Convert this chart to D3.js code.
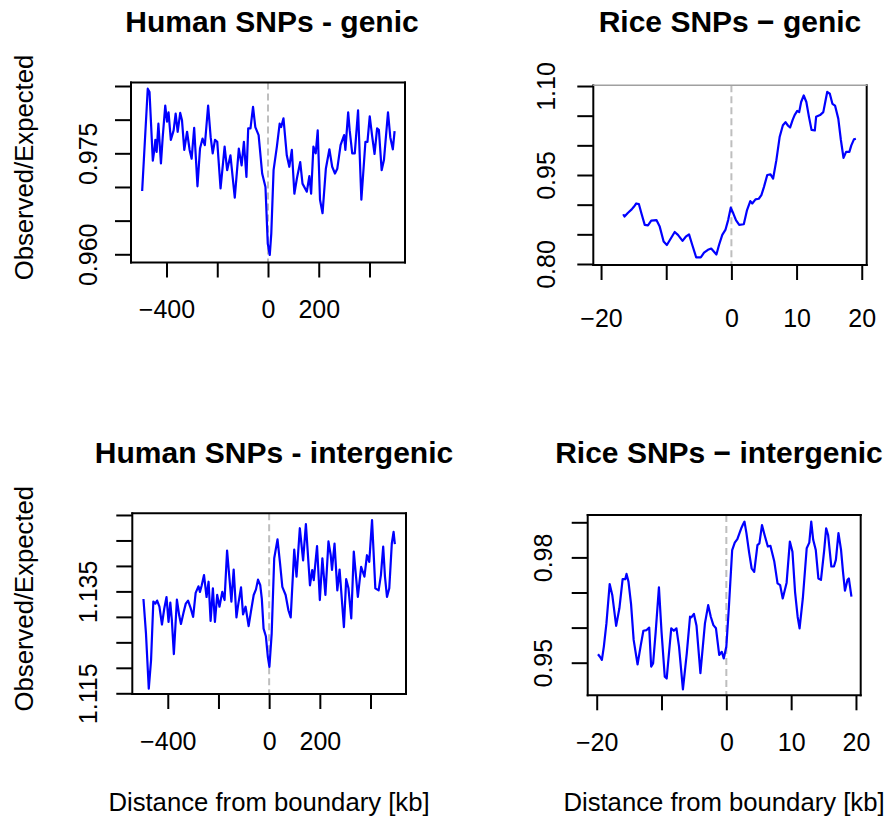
<!DOCTYPE html>
<html>
<head>
<meta charset="utf-8">
<script src="https://cdn.jsdelivr.net/npm/d3@7"></script>
<style>
  body { margin: 0; background: #fff; }
  svg text { font-family: "Liberation Sans", Arial, Helvetica, sans-serif; fill: #000; }
</style>
</head>
<body>
<svg width="890" height="822"></svg>
<script>
// observed/expected ratio vs distance from boundary
var humanGenic = [[-496,0.9694],[-474,0.9846],[-467,0.9841],[-454,0.9739],[-448,0.9755],[-444,0.9770],[-439,0.9752],[-432,0.9794],[-422,0.9735],[-415,0.9774],[-405,0.9821],[-398,0.9797],[-392,0.9811],[-383,0.9770],[-372,0.9784],[-364,0.9809],[-356,0.9782],[-346,0.9810],[-339,0.9799],[-330,0.9755],[-319,0.9782],[-309,0.9755],[-301,0.9742],[-291,0.9788],[-278,0.9701],[-268,0.9757],[-258,0.9772],[-249,0.9762],[-236,0.9821],[-226,0.9774],[-218,0.9750],[-209,0.9770],[-200,0.9767],[-187,0.9698],[-171,0.9760],[-161,0.9725],[-148,0.9747],[-131,0.9684],[-115,0.9757],[-104,0.9732],[-95,0.9767],[-85,0.9715],[-78,0.9787],[-69,0.9787],[-59,0.9819],[-50,0.9789],[-37,0.9777],[-23,0.9720],[-10,0.9700],[-1,0.9616],[7,0.9599],[13,0.9631],[22,0.9725],[35,0.9760],[46,0.9794],[52,0.9789],[61,0.9802],[74,0.9747],[84,0.9730],[94,0.9755],[104,0.9690],[114,0.9713],[127,0.9737],[136,0.9705],[153,0.9693],[163,0.9716],[170,0.9690],[179,0.9760],[188,0.9750],[196,0.9784],[205,0.9681],[215,0.9661],[228,0.9727],[242,0.9756],[253,0.9730],[264,0.9720],[273,0.9727],[286,0.9762],[300,0.9777],[305,0.9755],[316,0.9811],[322,0.9784],[332,0.9750],[342,0.9750],[355,0.9814],[368,0.9681],[384,0.9767],[392,0.9767],[401,0.9805],[411,0.9774],[420,0.9749],[430,0.9787],[437,0.9785],[448,0.9725],[457,0.9740],[473,0.9811],[482,0.9774],[492,0.9756],[499,0.9783]];

var riceGenic = [[-16.6,0.884],[-16.4,0.880],[-15.9,0.886],[-15.3,0.892],[-15.0,0.896],[-14.6,0.902],[-14.2,0.901],[-13.8,0.885],[-13.3,0.866],[-12.8,0.865],[-12.3,0.873],[-11.5,0.874],[-11.0,0.863],[-10.4,0.838],[-9.9,0.832],[-9.3,0.843],[-8.7,0.854],[-8.2,0.849],[-7.5,0.839],[-7.0,0.846],[-6.5,0.850],[-6.0,0.832],[-5.4,0.811],[-4.7,0.811],[-4.2,0.819],[-3.6,0.824],[-3.1,0.826],[-2.7,0.821],[-2.3,0.816],[-1.9,0.832],[-1.4,0.849],[-0.9,0.858],[-0.5,0.874],[-0.1,0.895],[0.3,0.885],[0.7,0.874],[1.2,0.866],[1.9,0.867],[2.4,0.891],[2.9,0.906],[3.2,0.902],[3.7,0.909],[4.2,0.910],[4.6,0.916],[5.0,0.930],[5.5,0.950],[6.0,0.951],[6.4,0.944],[6.9,0.975],[7.4,1.014],[7.9,1.034],[8.3,1.039],[8.7,1.033],[9.0,1.030],[9.4,1.043],[9.7,1.051],[10.1,1.058],[10.4,1.056],[10.7,1.073],[11.1,1.084],[11.5,1.073],[11.9,1.048],[12.3,1.026],[12.8,1.025],[13.0,1.048],[13.6,1.051],[14.1,1.056],[14.4,1.073],[14.7,1.090],[15.1,1.087],[15.5,1.070],[15.9,1.067],[16.4,1.045],[16.8,1.009],[17.2,0.979],[17.6,0.989],[18.1,0.989],[18.4,1.000],[18.8,1.010],[19.1,1.011]];

var humanInter = [[-496,1.1335],[-486,1.1267],[-475,1.1159],[-466,1.1215],[-457,1.1330],[-449,1.1326],[-442,1.1332],[-433,1.1320],[-423,1.1285],[-414,1.1316],[-405,1.1339],[-397,1.1290],[-390,1.1328],[-384,1.1294],[-376,1.1227],[-364,1.1334],[-355,1.1303],[-348,1.1286],[-338,1.1308],[-329,1.1326],[-320,1.1332],[-309,1.1316],[-300,1.1300],[-290,1.1347],[-279,1.1360],[-273,1.1349],[-266,1.1362],[-257,1.1382],[-247,1.1339],[-239,1.1369],[-231,1.1292],[-222,1.1356],[-214,1.1290],[-205,1.1343],[-196,1.1320],[-185,1.1349],[-176,1.1333],[-166,1.1430],[-155,1.1366],[-149,1.1330],[-140,1.1393],[-129,1.1299],[-123,1.1321],[-111,1.1358],[-103,1.1305],[-93,1.1320],[-81,1.1282],[-72,1.1310],[-61,1.1343],[-52,1.1354],[-44,1.1373],[-35,1.1362],[-29,1.1336],[-22,1.1277],[-13,1.1262],[-5,1.1221],[1,1.1202],[10,1.1267],[20,1.1415],[33,1.1452],[43,1.1405],[52,1.1359],[65,1.1343],[76,1.1313],[85,1.1299],[99,1.1432],[108,1.1379],[121,1.1474],[134,1.1411],[145,1.1482],[161,1.1362],[170,1.1392],[176,1.1372],[189,1.1439],[200,1.1333],[210,1.1415],[222,1.1343],[234,1.1448],[243,1.1421],[248,1.1392],[258,1.1444],[269,1.1352],[278,1.1393],[295,1.1280],[304,1.1374],[313,1.1356],[324,1.1297],[334,1.1428],[350,1.1339],[363,1.1398],[376,1.1379],[386,1.1421],[395,1.1408],[406,1.1490],[419,1.1356],[432,1.1352],[441,1.1382],[450,1.1438],[457,1.1379],[465,1.1339],[474,1.1356],[484,1.1444],[491,1.1467],[496,1.1443]];

var riceInter = [[-19.8,0.9524],[-19.5,0.9517],[-19.2,0.9508],[-18.9,0.9546],[-18.5,0.9612],[-18.0,0.9724],[-17.6,0.9693],[-17.0,0.9605],[-16.5,0.9655],[-16.0,0.9738],[-15.6,0.9738],[-15.4,0.9753],[-15.1,0.9731],[-14.7,0.9667],[-14.3,0.9565],[-13.7,0.9495],[-13.2,0.9550],[-12.8,0.9591],[-12.3,0.9593],[-11.9,0.9600],[-11.6,0.9489],[-11.3,0.9498],[-10.9,0.9588],[-10.4,0.9715],[-10.0,0.9588],[-9.5,0.9460],[-9.2,0.9455],[-8.9,0.9517],[-8.5,0.9598],[-8.1,0.9591],[-7.7,0.9598],[-7.3,0.9546],[-6.7,0.9424],[-6.1,0.9527],[-5.6,0.9631],[-5.4,0.9629],[-5.0,0.9639],[-4.6,0.9605],[-4.0,0.9470],[-3.3,0.9612],[-2.8,0.9664],[-2.4,0.9631],[-2.0,0.9607],[-1.6,0.9598],[-1.1,0.9522],[-0.7,0.9531],[-0.4,0.9512],[0.0,0.9546],[0.4,0.9660],[0.9,0.9821],[1.3,0.9842],[1.7,0.9852],[2.1,0.9873],[2.3,0.9883],[2.6,0.9895],[2.8,0.9902],[3.1,0.9869],[3.5,0.9816],[3.9,0.9769],[4.3,0.9759],[4.8,0.9835],[5.1,0.9840],[5.5,0.9892],[5.9,0.9864],[6.4,0.9831],[6.8,0.9833],[7.4,0.9788],[7.9,0.9726],[8.3,0.9721],[8.7,0.9683],[9.3,0.9728],[9.8,0.9845],[10.2,0.9816],[10.6,0.9702],[11.0,0.9631],[11.3,0.9598],[11.8,0.9683],[12.4,0.9826],[12.8,0.9842],[13.1,0.9902],[13.4,0.9850],[13.8,0.9821],[14.2,0.9740],[14.6,0.9736],[15.1,0.9821],[15.4,0.9883],[15.7,0.9864],[16.2,0.9774],[16.6,0.9774],[16.9,0.9793],[17.3,0.9869],[17.7,0.9821],[18.0,0.9759],[18.3,0.9705],[18.7,0.9736],[18.9,0.9740],[19.3,0.9688]];

// tick values, and which of them carry a label
var humanXTicks = [-400, -200, 0, 200, 400];
var humanXLabels = [-400, 0, 200];
var riceXTicks = [-20, -10, 0, 10, 20];
var riceXLabels = [-20, 0, 10, 20];
var humanGenicYTicks = [0.960, 0.965, 0.970, 0.975, 0.980, 0.985];
var humanGenicYLabels = [0.960, 0.975];
var riceGenicYTicks = [0.80, 0.85, 0.90, 0.95, 1.00, 1.05, 1.10];
var riceGenicYLabels = [0.80, 0.95, 1.10];
var humanInterYTicks = [1.115, 1.120, 1.125, 1.130, 1.135, 1.140, 1.145, 1.150];
var humanInterYLabels = [1.115, 1.135];
var riceInterYTicks = [0.95, 0.96, 0.97, 0.98, 0.99];
var riceInterYLabels = [0.95, 0.98];

var titles = ['Human SNPs - genic', 'Rice SNPs \u2212 genic', 'Human SNPs - intergenic', 'Rice SNPs \u2212 intergenic'];
var yTitle = 'Observed/Expected';
var xTitle = 'Distance from boundary [kb]';

// layout: box = [left, top, right, bottom]
var panels = [
  { data: humanGenic, title: titles[0], box: [131, 82.5, 405, 262.5], xd: [-540, 540], yd: [0.95878, 0.98552],
    xt: humanXTicks, xl: humanXLabels, yt: humanGenicYTicks, yl: humanGenicYLabels, yf: '.3f',
    titleX: 272, titleY: 32, xLabY: 318, yLabOff: 34, yTitle: true, xTitle: false },
  { data: riceGenic, title: titles[1], box: [593.3, 85.3, 866.7, 265], xd: [-21.19, 20.76], yd: [0.7983, 1.1012],
    xt: riceXTicks, xl: riceXLabels, yt: riceGenicYTicks, yl: riceGenicYLabels, yf: '.2f',
    titleX: 730, titleY: 32, xLabY: 327, yLabOff: 38, yTitle: false, xTitle: false, grayTop: true },
  { data: humanInter, title: titles[2], box: [132.3, 513.3, 406, 694], xd: [-540, 540], yd: [1.11486, 1.15033],
    xt: humanXTicks, xl: humanXLabels, yt: humanInterYTicks, yl: humanInterYLabels, yf: '.3f',
    titleX: 274, titleY: 462.5, xLabY: 750, yLabOff: 35, yTitle: true, xTitle: true, xTitleX: 269 },
  { data: riceInter, title: titles[3], box: [587.7, 515, 860.7, 695.3], xd: [-21.39, 20.73], yd: [0.94071, 0.99208],
    xt: riceXTicks, xl: riceXLabels, yt: riceInterYTicks, yl: riceInterYLabels, yf: '.2f',
    titleX: 719, titleY: 462.5, xLabY: 751, yLabOff: 36, yTitle: false, xTitle: true, xTitleX: 724 }
];

var svg = d3.select('svg');

panels.forEach(function (p) {
  var b = p.box;
  var x = d3.scaleLinear().domain(p.xd).range([b[0], b[2]]);
  var y = d3.scaleLinear().domain(p.yd).range([b[3], b[1]]);
  var g = svg.append('g');

  // boundary marker
  g.append('line')
    .attr('x1', x(0)).attr('x2', x(0))
    .attr('y1', b[1]).attr('y2', b[3])
    .attr('stroke', '#bebebe').attr('stroke-width', 2)
    .attr('stroke-dasharray', '7,4');

  g.append('path').datum(p.data)
    .attr('fill', 'none')
    .attr('stroke', '#0000ff')
    .attr('stroke-width', 2.2)
    .attr('stroke-linejoin', 'round')
    .attr('d', d3.line().x(function (d) { return x(d[0]); }).y(function (d) { return y(d[1]); }));

  // box
  var edges = [[b[0], b[3], b[2], b[3]], [b[0], b[1], b[0], b[3]], [b[2], b[1], b[2], b[3]], [b[0], b[1], b[2], b[1]]];
  edges.forEach(function (e, i) {
    g.append('line')
      .attr('x1', e[0]).attr('y1', e[1]).attr('x2', e[2]).attr('y2', e[3])
      .attr('stroke', (i === 3 && p.grayTop) ? '#a0a0a0' : '#000')
      .attr('stroke-width', (i === 3 && p.grayTop) ? 1.5 : 2)
      .attr('stroke-linecap', 'square');
  });

  var fx = d3.format('d');
  var xAxis = d3.axisBottom(x).tickValues(p.xt).tickSize(15).tickSizeOuter(0)
    .tickFormat(function (d) { return p.xl.indexOf(d) >= 0 ? fx(d) : ''; });
  var gx = g.append('g').attr('transform', 'translate(0,' + b[3] + ')').call(xAxis)
    .attr('font-size', 25).attr('font-family', null);
  gx.select('.domain').remove();
  gx.selectAll('.tick line').attr('stroke', '#000').attr('stroke-width', 2);
  gx.selectAll('.tick text').attr('y', p.xLabY - b[3]).attr('dy', 0);

  var fy = d3.format(p.yf);
  var yAxis = d3.axisLeft(y).tickValues(p.yt).tickSize(16).tickSizeOuter(0)
    .tickFormat(function (d) { return p.yl.indexOf(d) >= 0 ? fy(d) : ''; });
  var gy = g.append('g').attr('transform', 'translate(' + b[0] + ',0)').call(yAxis)
    .attr('font-size', 25).attr('font-family', null);
  gy.select('.domain').remove();
  gy.selectAll('.tick line').attr('stroke', '#000').attr('stroke-width', 2);
  gy.selectAll('.tick text')
    .attr('x', 0).attr('dy', 0)
    .attr('text-anchor', 'middle')
    .attr('transform', 'translate(' + (-p.yLabOff) + ',0) rotate(-90)');

  g.append('text')
    .attr('x', p.titleX).attr('y', p.titleY)
    .attr('text-anchor', 'middle')
    .attr('font-size', 30).attr('font-weight', 'bold')
    .text(p.title);

  if (p.yTitle) {
    g.append('text')
      .attr('transform', 'translate(33,' + ((b[1] + b[3]) / 2 - 5) + ') rotate(-90)')
      .attr('text-anchor', 'middle')
      .attr('font-size', 25.7)
      .text(yTitle);
  }
  if (p.xTitle) {
    g.append('text')
      .attr('x', p.xTitleX).attr('y', 811)
      .attr('text-anchor', 'middle')
      .attr('font-size', 25.7)
      .text(xTitle);
  }
});
</script>
</body>
</html>
